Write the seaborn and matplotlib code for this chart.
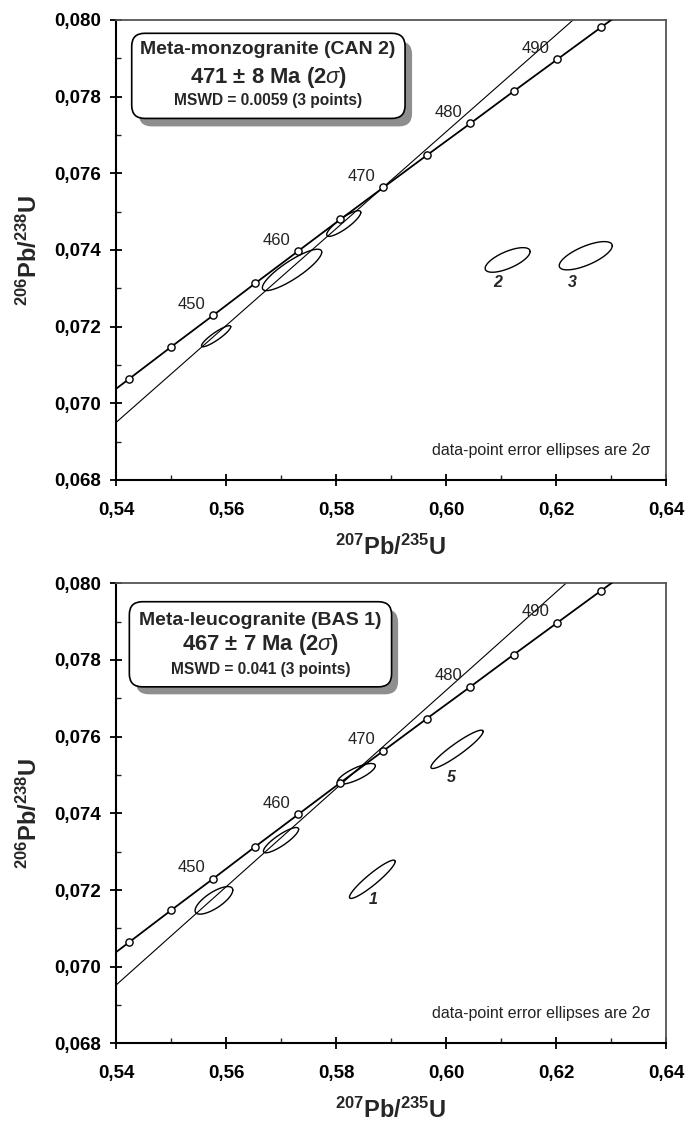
import numpy as np
import matplotlib
matplotlib.use("Agg")
import matplotlib.pyplot as plt
from matplotlib.patches import FancyBboxPatch
from matplotlib.ticker import MultipleLocator, FuncFormatter
import seaborn as sns

# --- concordia (marked every 5 Ma, 435..500 Ma) ---
conc_x = [0.5348, 0.5424, 0.5500, 0.5577, 0.5653, 0.5731, 0.5808,
          0.5886, 0.5965, 0.6044, 0.6123, 0.6202, 0.6282, 0.6363]
conc_y = [0.06981, 0.07064, 0.07147, 0.07230, 0.07313, 0.07397, 0.07480,
          0.07563, 0.07647, 0.07730, 0.07814, 0.07897, 0.07981, 0.08065]
conc_ages = [435, 440, 445, 450, 455, 460, 465, 470, 475, 480, 485, 490, 495, 500]
age_labels = [450, 460, 470, 480, 490]

# --- panel 1: CAN 2 ---
can_title = "Meta-monzogranite (CAN 2)"
can_age = r"471 ± 8 Ma (2$\sigma$)"
can_mswd = "MSWD = 0.0059 (3 points)"
can_disc_x = [0.5400, 0.6231]
can_disc_y = [0.06950, 0.08000]
can_cx = [0.5582, 0.5720, 0.5814, 0.6112, 0.6254]
can_cy = [0.07175, 0.07348, 0.07469, 0.07374, 0.07385]
can_sx = [0.00266, 0.00540, 0.00310, 0.00409, 0.00482]
can_sy = [0.000275, 0.00054, 0.000335, 0.000321, 0.000369]
can_rho = [0.90, 0.86, 0.86, 0.68, 0.70]
can_lab = ["2", "3"]
can_lab_x = [0.6093, 0.6229]
can_lab_y = [0.07314, 0.07314]

# --- panel 2: BAS 1 ---
bas_title = "Meta-leucogranite (BAS 1)"
bas_age = r"467 ± 7 Ma (2$\sigma$)"
bas_mswd = "MSWD = 0.041 (3 points)"
bas_disc_x = [0.5400, 0.6218]
bas_disc_y = [0.06952, 0.08000]
bas_cx = [0.5578, 0.5700, 0.5837, 0.5866, 0.6020]
bas_cy = [0.07173, 0.07330, 0.07503, 0.07228, 0.07567]
bas_sx = [0.00343, 0.00320, 0.00345, 0.00416, 0.00475]
bas_sy = [0.00036, 0.00033, 0.00027, 0.00050, 0.00050]
bas_rho = [0.74, 0.86, 0.78, 0.93, 0.93]
bas_lab = ["1", "5"]
bas_lab_x = [0.5867, 0.6009]
bas_lab_y = [0.07176, 0.07493]

sns.set_theme(style="ticks")
plt.rcParams["font.family"] = ["Liberation Sans", "DejaVu Sans"]
plt.rcParams["mathtext.fontset"] = "custom"
plt.rcParams["mathtext.rm"] = "Liberation Sans"
plt.rcParams["mathtext.it"] = "Liberation Sans:italic"
plt.rcParams["mathtext.bf"] = "Liberation Sans:bold"

fig = plt.figure(figsize=(6.87, 11.22), dpi=100)
ax_top = fig.add_axes([0.1689, 0.5722, 0.8006, 0.4100])
ax_bot = fig.add_axes([0.1689, 0.0701, 0.8006, 0.4100])

comma = FuncFormatter(lambda v, p: f"{v:.3f}".replace(".", ","))
comma2 = FuncFormatter(lambda v, p: f"{v:.2f}".replace(".", ","))


def ellipse_path(cx, cy, sx, sy, rho):
    t = np.linspace(0, 2 * np.pi, 181)
    ex = cx + sx * np.cos(t)
    ey = cy + sy * (rho * np.cos(t) + np.sqrt(1 - rho ** 2) * np.sin(t))
    return ex, ey


def add_box(ax, x0, y0, x1, y1, lines, sizes, tx, tys, shadow):
    pos = ax.get_position()
    fw, fh = fig.get_size_inches()
    ix0 = (pos.x0 + x0 * pos.width) * fw
    iy0 = (pos.y0 + y0 * pos.height) * fh
    iw = (x1 - x0) * pos.width * fw
    ih = (y1 - y0) * pos.height * fh
    style = "round,pad=0,rounding_size=0.13"
    sh = FancyBboxPatch((ix0 + shadow[0], iy0 - shadow[1]), iw, ih, boxstyle=style,
                        transform=fig.dpi_scale_trans, fc="#8e8e8e", ec="none",
                        zorder=5, clip_on=False)
    bx = FancyBboxPatch((ix0, iy0), iw, ih, boxstyle=style,
                        transform=fig.dpi_scale_trans, fc="white", ec="black", lw=1.2,
                        zorder=6, clip_on=False)
    ax.add_patch(sh)
    ax.add_patch(bx)
    for s, fs, ty in zip(lines, sizes, tys):
        ax.text(tx, ty, s, transform=ax.transAxes, ha="center", va="center",
                fontsize=fs, fontweight="bold", zorder=7)


def draw_panel(ax, disc_x, disc_y, cx, cy, sx, sy, rho, lab, lab_x, lab_y):
    # discordia
    sns.lineplot(x=disc_x, y=disc_y, ax=ax, color="black", lw=0.8,
                 sort=False, estimator=None)
    # concordia
    sns.lineplot(x=conc_x, y=conc_y, ax=ax, color="black", lw=1.3, sort=False,
                 estimator=None, marker="o", markersize=5.2, markerfacecolor="white",
                 markeredgecolor="black", markeredgewidth=1.0, zorder=4)
    for a in age_labels:
        i = conc_ages.index(a)
        ax.annotate(str(a), (conc_x[i], conc_y[i]), xytext=(-15.5, 8),
                    textcoords="offset points", ha="center", va="center",
                    fontsize=12, color="#222222")
    # error ellipses
    for c_x, c_y, s_x, s_y, r in zip(cx, cy, sx, sy, rho):
        ex, ey = ellipse_path(c_x, c_y, s_x, s_y, r)
        sns.lineplot(x=ex, y=ey, ax=ax, color="black", lw=1.0, sort=False, estimator=None)
    for s, lx, ly in zip(lab, lab_x, lab_y):
        ax.text(lx, ly, s, ha="center", va="center", fontsize=11.5,
                fontweight="bold", fontstyle="italic")
    ax.text(0.971, 0.064, "data-point error ellipses are 2σ", transform=ax.transAxes,
            ha="right", va="center", fontsize=11.5, color="#222222")

    ax.set_xlim(0.54, 0.64)
    ax.set_ylim(0.068, 0.080)
    ax.xaxis.set_major_locator(MultipleLocator(0.02))
    ax.xaxis.set_minor_locator(MultipleLocator(0.01))
    ax.yaxis.set_major_locator(MultipleLocator(0.002))
    ax.yaxis.set_minor_locator(MultipleLocator(0.001))
    ax.xaxis.set_major_formatter(comma2)
    ax.yaxis.set_major_formatter(comma)
    ax.tick_params(which="major", direction="inout", length=9, width=1.3,
                   labelsize=13.5, top=False, right=False, colors="black")
    ax.tick_params(axis="y", which="major", pad=6)
    ax.tick_params(axis="x", which="major", pad=11)
    ax.tick_params(which="minor", direction="in", length=3.5, width=1.0,
                   top=False, right=False)
    for lbl in ax.get_xticklabels() + ax.get_yticklabels():
        lbl.set_fontweight("bold")
    for sp in ["left", "bottom"]:
        ax.spines[sp].set_linewidth(1.5)
        ax.spines[sp].set_color("black")
    for sp in ["top", "right"]:
        ax.spines[sp].set_linewidth(1.3)
        ax.spines[sp].set_color("#555555")
    ax.set_xlabel(r"$^{\mathbf{207}}$Pb/$^{\mathbf{235}}$U", fontsize=17, fontweight="bold")
    ax.set_ylabel(r"$^{\mathbf{206}}$Pb/$^{\mathbf{238}}$U", fontsize=17, fontweight="bold")
    ax.xaxis.set_label_coords(0.5, -0.118)
    ax.yaxis.set_label_coords(-0.135, 0.5)


draw_panel(ax_top, can_disc_x, can_disc_y, can_cx, can_cy, can_sx, can_sy, can_rho,
           can_lab, can_lab_x, can_lab_y)
draw_panel(ax_bot, bas_disc_x, bas_disc_y, bas_cx, bas_cy, bas_sx, bas_sy, bas_rho,
           bas_lab, bas_lab_x, bas_lab_y)

add_box(ax_top, 0.0285, 0.786, 0.5255, 0.971, [can_title, can_age, can_mswd],
        [14, 15.8, 11.2], 0.2764, [0.935, 0.874, 0.826], (0.07, 0.08))
add_box(ax_bot, 0.0242, 0.775, 0.501, 0.960, [bas_title, bas_age, bas_mswd],
        [14, 15.8, 11.2], 0.2627, [0.920, 0.866, 0.812], (0.065, 0.075))

fig.savefig("out.png", dpi=100)
